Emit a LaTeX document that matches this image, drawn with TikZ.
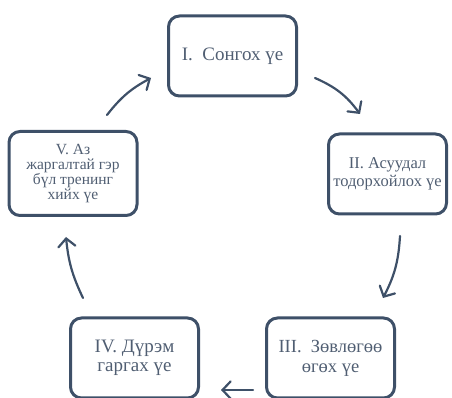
\documentclass[tikz,border=0pt]{standalone}
\usepackage{fontspec}
\setmainfont{Liberation Serif}
\usetikzlibrary{arrows.meta}
\definecolor{framecol}{RGB}{62,80,104}
\definecolor{textcol}{RGB}{80,94,114}
\begin{document}
\begin{tikzpicture}[x=1pt,y=1pt,
  stage/.style={draw=framecol,line width=3pt,rounded corners=11pt,minimum width=128pt,minimum height=80pt,align=center,text=textcol},
  cyc/.style={draw=framecol,line width=2.2pt,line cap=round,-{Straight Barb[length=8pt,width=17pt,line cap=round]}}]
  \useasboundingbox (0,0) rectangle (452,398);
  % stages
  \node[stage,font=\fontsize{19}{20}\selectfont] (s1) at (232.5,342) {I.\ \ Сонгох үе};
  \node[stage,minimum width=118pt,font=\fontsize{16.5}{18.5}\selectfont] (s2) at (387.5,224) {II. Асуудал\\тодорхойлох үе};
  \node[stage,font=\fontsize{18.5}{20}\selectfont] (s3) at (330.5,40) {III.\ \ Зөвлөгөө\\өгөх үе};
  \node[stage,font=\fontsize{19}{18.5}\selectfont] (s4) at (134.5,40) {IV. Дүрэм\\гаргах үе};
  \node[stage,minimum height=84pt,inner sep=1pt,font=\fontsize{15.5}{15}\selectfont] (s5) at (73,224.5) {V. Аз\\жаргалтай гэр\\бүл тренинг\\хийх үе};
  % arrow ends
  \coordinate (a1) at (315,320); \coordinate (b1) at (360,284);
  \coordinate (a2) at (400,162); \coordinate (b2) at (383,100);
  \coordinate (a3) at (253,8);   \coordinate (b3) at (221,8);
  \coordinate (a4) at (83,100);  \coordinate (b4) at (66,161);
  \coordinate (a5) at (107,283); \coordinate (b5) at (151,320);
  % arrows
  \draw[cyc] (a1) to[bend left=15] (b1);
  \draw[cyc] (a2) to[bend left=12] (b2);
  \draw[cyc] (a3) -- (b3);
  \draw[cyc] (a4) to[bend left=10] (b4);
  \draw[cyc] (a5) to[bend left=12] (b5);
\end{tikzpicture}
\end{document}
